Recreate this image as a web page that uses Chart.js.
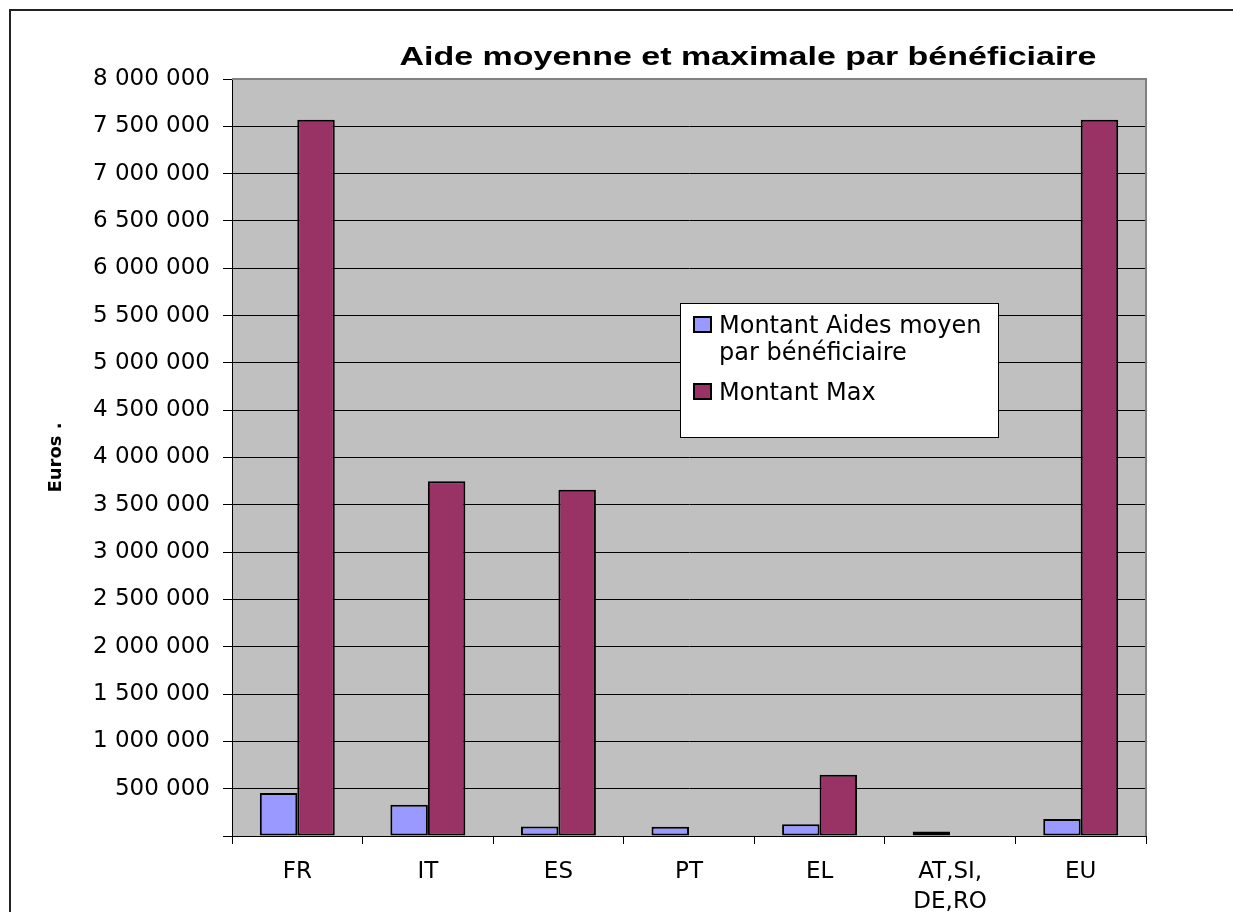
<!DOCTYPE html>
<html>
<head>
<meta charset="utf-8">
<script src="https://cdn.jsdelivr.net/npm/chart.js@4/dist/chart.umd.min.js"></script>
<style>
html,body{margin:0;padding:0;background:#fff;}
canvas{display:block;}
</style>
</head>
<body>
<canvas id="c" width="1233" height="912"></canvas>
<script>
// ---- data ----
const chartTitle = 'Aide moyenne et maximale par bénéficiaire';
const yAxisTitle = 'Euros .';
const categories = ['FR', 'IT', 'ES', 'PT', 'EL', ['AT,SI,', 'DE,RO'], 'EU'];
const seriesNames = ['Montant Aides moyen par bénéficiaire', 'Montant Max'];
const averageAid = [455000, 330000, 100000, 97000, 124000, 47000, 180000];
const maxAid = [7570000, 3750000, 3660000, null, 648000, null, 7570000];
const yTickValues = [0, 500000, 1000000, 1500000, 2000000, 2500000, 3000000, 3500000,
  4000000, 4500000, 5000000, 5500000, 6000000, 6500000, 7000000, 7500000, 8000000];

// ---- styles ----
const FONT = '"DejaVu Sans", sans-serif';
const colAvg = '#9999FF';
const colMax = '#993366';
const plotBg = '#C0C0C0';

function fmt(v) {
  if (v === 0) return '';
  return String(v).replace(/\B(?=(\d{3})+(?!\d))/g, ' ');
}

const backgroundPlugin = {
  id: 'bg',
  beforeDraw(chart) {
    const {ctx, chartArea: a} = chart;
    ctx.save();
    ctx.fillStyle = '#fff';
    ctx.fillRect(0, 0, chart.width, chart.height);
    ctx.fillStyle = plotBg;
    ctx.fillRect(a.left, a.top, a.right - a.left, a.bottom - a.top);
    ctx.strokeStyle = '#222';
    ctx.lineWidth = 2;
    ctx.strokeRect(10, 10, chart.width + 50, chart.height + 50);
    ctx.restore();
  },
  beforeDatasetsDraw(chart) {
    const {ctx, chartArea: a} = chart;
    ctx.save();
    ctx.strokeStyle = '#808080';
    ctx.lineWidth = 2;
    ctx.beginPath();
    ctx.moveTo(a.left, a.top);
    ctx.lineTo(a.right, a.top);
    ctx.lineTo(a.right, a.bottom);
    ctx.stroke();
    ctx.restore();
  }
};

const titlePlugin = {
  id: 'customTitle',
  afterDraw(chart) {
    const {ctx} = chart;
    ctx.save();
    ctx.font = 'bold 26px "Liberation Sans", Arial, sans-serif';
    ctx.fillStyle = '#000';
    ctx.textAlign = 'center';
    ctx.textBaseline = 'alphabetic';
    const w = ctx.measureText(chartTitle).width;
    const target = 697;
    ctx.translate(748, 65);
    ctx.scale(target / w, 1);
    ctx.fillText(chartTitle, 0, 0);
    ctx.restore();
  }
};

const legendPlugin = {
  id: 'customLegend',
  afterDraw(chart) {
    const {ctx} = chart;
    const bx = 680, by = 303, bw = 319, bh = 135;
    ctx.save();
    ctx.fillStyle = '#fff';
    ctx.fillRect(bx, by, bw, bh);
    ctx.strokeStyle = '#000';
    ctx.lineWidth = 1;
    ctx.strokeRect(bx + 0.5, by + 0.5, bw - 1, bh - 1);
    ctx.font = '24px ' + FONT;
    ctx.fillStyle = '#000';
    ctx.textAlign = 'left';
    ctx.textBaseline = 'alphabetic';
    const maxW = 275;
    let baseline = 333;
    chart.data.datasets.forEach((ds, i) => {
      const words = ds.label.split(' ');
      const lines = [];
      let cur = '';
      words.forEach(wd => {
        const t = cur ? cur + ' ' + wd : wd;
        if (ctx.measureText(t).width > maxW && cur) { lines.push(cur); cur = wd; }
        else cur = t;
      });
      if (cur) lines.push(cur);
      ctx.fillStyle = ds.backgroundColor;
      ctx.fillRect(694, baseline - 16, 17, 15);
      ctx.strokeStyle = '#000';
      ctx.lineWidth = 2;
      ctx.strokeRect(694, baseline - 16, 17, 15);
      ctx.fillStyle = '#000';
      lines.forEach((ln, k) => {
        ctx.fillText(ln, 719, baseline + k * 27);
      });
      baseline += (lines.length - 1) * 27 + 40;
    });
    ctx.restore();
  }
};

new Chart(document.getElementById('c'), {
  type: 'bar',
  data: {
    labels: categories,
    datasets: [
      { label: seriesNames[0], data: averageAid, backgroundColor: colAvg, borderColor: '#000', borderWidth: 2, borderSkipped: false },
      { label: seriesNames[1], data: maxAid, backgroundColor: colMax, borderColor: '#000', borderWidth: 2, borderSkipped: false }
    ]
  },
  options: {
    responsive: false,
    animation: false,
    layout: { padding: { left: 0, right: 87, top: 79, bottom: 0 } },
    datasets: { bar: { categoryPercentage: 0.574, barPercentage: 1 } },
    plugins: {
      legend: { display: false },
      title: { display: false },
      tooltip: { enabled: false }
    },
    scales: {
      x: {
        grid: { drawOnChartArea: false, tickLength: 8, color: '#000', offset: true },
        border: { color: '#000', width: 1 },
        ticks: { font: { family: FONT, size: 23, lineHeight: 1.3 }, color: '#000', padding: 13, autoSkip: false, maxRotation: 0 },
        afterFit(s) { s.height = 76; }
      },
      y: {
        min: 0,
        max: 8000000,
        afterBuildTicks(s) { s.ticks = yTickValues.map(v => ({ value: v })); },
        ticks: { callback: v => fmt(v), font: { family: FONT, size: 23 }, color: '#000', padding: 13 },
        grid: { color: '#000', tickLength: 9, lineWidth: 1 },
        border: { color: '#000', width: 1 },
        title: { display: true, text: yAxisTitle, font: { family: FONT, size: 18, weight: 'bold' }, color: '#000', padding: { top: 46, bottom: 0 } },
        afterFit(s) { s.width = 232; }
      }
    }
  },
  plugins: [backgroundPlugin, titlePlugin, legendPlugin]
});
</script>
</body>
</html>
